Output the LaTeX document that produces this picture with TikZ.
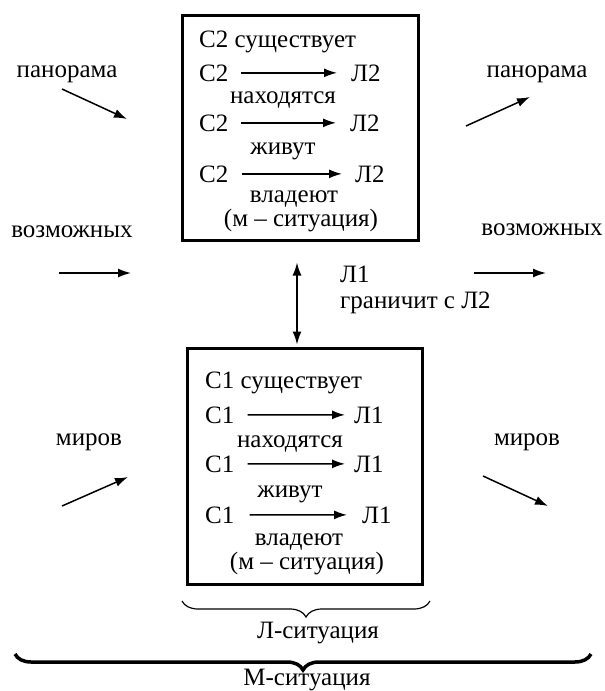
\documentclass[tikz,border=0pt]{standalone}
\usepackage{fontspec}
\setmainfont{Liberation Serif}
\usetikzlibrary{arrows.meta,decorations.pathreplacing}

\tikzset{
  txt/.style={inner sep=0pt, font=\fontsize{25}{29}\selectfont},
  frame/.style={draw, line width=3pt, inner sep=0pt},
  arr/.style={-{Latex[length=13pt,width=9pt]}, line width=1.5pt},
  darr/.style={{Latex[length=13pt,width=9pt]}-{Latex[length=13pt,width=9pt]}, line width=1.5pt},
}

\begin{document}
\begin{tikzpicture}[x=1pt,y=-1pt]
        \useasboundingbox (0,0) rectangle (605,691);

        % draw the two frames
        \node[frame, minimum width=236pt, minimum height=225pt] (topbox) at (300,127.5) {};
        \node[frame, minimum width=235pt, minimum height=236pt] (botbox) at (304.5,466) {};

        % draw the text of the upper frame
        \node[txt, anchor=base west] (s2ex) at (199,47) {С2 существует};
        \node[txt, anchor=base west] (s2a) at (199,81) {С2};
        \node[txt, anchor=base west] (l2a) at (351,81) {Л2};
        \node[txt, anchor=base] (nah2) at (283,103) {находятся};
        \node[txt, anchor=base west] (s2b) at (199,131) {С2};
        \node[txt, anchor=base west] (l2b) at (350,131) {Л2};
        \node[txt, anchor=base] (zhiv2) at (283,154) {живут};
        \node[txt, anchor=base west] (s2c) at (199,182) {С2};
        \node[txt, anchor=base west] (l2c) at (355,182) {Л2};
        \node[txt, anchor=base] (vlad2) at (294,202) {владеют};
        \node[txt, anchor=base] (msit2) at (301,226) {(м – ситуация)};
        \draw[arr, shorten <=12pt, shorten >=14pt] (s2a) -- (l2a);
        \draw[arr, shorten <=12pt, shorten >=14pt] (s2b) -- (l2b);
        \draw[arr, shorten <=13pt, shorten >=13pt] (s2c) -- (l2c);

        % draw the text of the lower frame
        \node[txt, anchor=base west] (s1ex) at (205,388) {С1 существует};
        \node[txt, anchor=base west] (s1a) at (205,423) {С1};
        \node[txt, anchor=base west] (l1a) at (354,423) {Л1};
        \node[txt, anchor=base] (nah1) at (290,447) {находятся};
        \node[txt, anchor=base west] (s1b) at (205,472) {С1};
        \node[txt, anchor=base west] (l1b) at (354,472) {Л1};
        \node[txt, anchor=base] (zhiv1) at (290,497) {живут};
        \node[txt, anchor=base west] (s1c) at (205,523) {С1};
        \node[txt, anchor=base west] (l1c) at (362,523) {Л1};
        \node[txt, anchor=base] (vlad1) at (299,545) {владеют};
        \node[txt, anchor=base] (msit1) at (307,569) {(м – ситуация)};
        \draw[arr, shorten <=13pt, shorten >=9pt] (s1a) -- (l1a);
        \draw[arr, shorten <=13pt, shorten >=9pt] (s1b) -- (l1b);
        \draw[arr, shorten <=15pt, shorten >=15pt] (s1c) -- (l1c);

        % draw the link between the frames
        \draw[darr, shorten <=21pt, shorten >=2pt] ([xshift=-3pt]topbox.south) -- ([xshift=-3pt]topbox.south |- botbox.north);
        \node[txt, anchor=base west] (l1) at (340,282) {Л1};
        \node[txt, anchor=base west] (gran) at (340,308) {граничит с Л2};

        % draw the words on the left
        \node[txt, anchor=base] (panL) at (67,77) {панорама};
        \node[txt, anchor=base] (vozL) at (72,237) {возможных};
        \node[txt, anchor=base] (mirL) at (89,445) {миров};
        \coordinate (panLa) at (62,89);
        \coordinate (panLb) at (127,119);
        \coordinate (vozLa) at (59,273);
        \coordinate (vozLb) at (131,273);
        \coordinate (mirLa) at (62,506);
        \coordinate (mirLb) at (128,477);
        \draw[arr] (panLa) -- (panLb);
        \draw[arr] (vozLa) -- (vozLb);
        \draw[arr] (mirLa) -- (mirLb);

        % draw the words on the right
        \node[txt, anchor=base] (panR) at (537,77) {панорама};
        \node[txt, anchor=base] (vozR) at (542,235) {возможных};
        \node[txt, anchor=base] (mirR) at (527,445) {миров};
        \coordinate (panRa) at (466,126);
        \coordinate (panRb) at (530,97);
        \coordinate (vozRa) at (474,273);
        \coordinate (vozRb) at (546,273);
        \coordinate (mirRa) at (483,476);
        \coordinate (mirRb) at (548,506);
        \draw[arr] (panRa) -- (panRb);
        \draw[arr] (vozRa) -- (vozRb);
        \draw[arr] (mirRa) -- (mirRb);

        % draw the braces
        \draw[decorate, decoration={brace, mirror, amplitude=16pt}, line width=1.2pt] (182,601) -- (430,601);
        \node[txt, anchor=base] (lsit) at (318,638) {Л-ситуация};
        \draw[decorate, decoration={brace, mirror, amplitude=16pt}, line width=3.5pt] (15,654) -- (591,654);
        \node[txt, anchor=base] (msit) at (307,685) {М-ситуация};
    \end{tikzpicture}
\end{document}
